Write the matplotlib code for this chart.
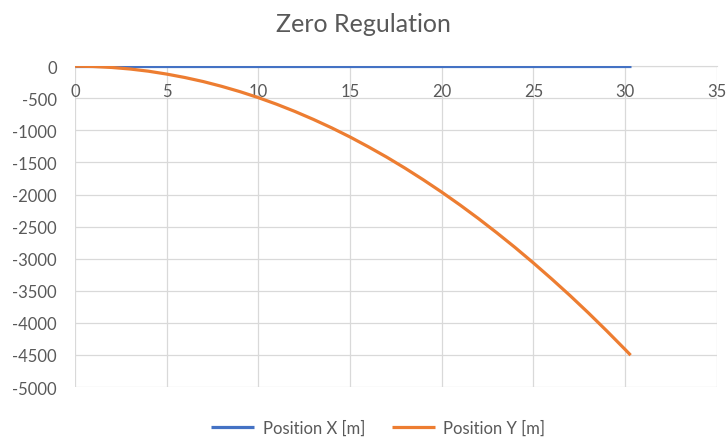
import matplotlib
matplotlib.use("Agg")
import matplotlib.pyplot as plt

# values
time_s = [0, 1, 2, 3, 4, 5, 6, 7, 8, 9, 10, 11, 12, 13, 14, 15, 16, 17, 18, 19,
          20, 21, 22, 23, 24, 25, 26, 27, 28, 29, 30, 30.3]
pos_x = [0] * len(time_s)
pos_y = [0, -5, -20, -44, -78, -123, -177, -240, -314, -397, -490, -593, -706,
         -829, -961, -1103, -1256, -1417, -1589, -1771, -1962, -2163, -2374,
         -2595, -2825, -3066, -3316, -3575, -3845, -4125, -4414, -4503]

x_ticks = [0, 5, 10, 15, 20, 25, 30, 35]
y_ticks = [0, -500, -1000, -1500, -2000, -2500, -3000, -3500, -4000, -4500, -5000]

TEXT = "#595959"
GRID = "#d9d9d9"

plt.rcParams["font.family"] = ["Lato", "DejaVu Sans"]
plt.rcParams["axes.unicode_minus"] = False  # Excel-style hyphen minus

fig = plt.figure(figsize=(7.27, 4.39), dpi=100)
ax = fig.add_axes([0.103, 0.116, 0.883, 0.731])

ax.plot(time_s, pos_x, color="#4472C4", lw=2.3, label="Position X [m]",
        solid_capstyle="butt")
ax.plot(time_s, pos_y, color="#ED7D31", lw=2.3, label="Position Y [m]",
        solid_capstyle="butt")

ax.set_xlim(0, 35)
ax.set_ylim(-5000, 0)
ax.set_xticks(x_ticks)
ax.set_yticks(y_ticks)
ax.grid(True, color=GRID, lw=0.9)
ax.set_axisbelow(True)

for name in ("top", "right", "left"):
    ax.spines[name].set_visible(False)
ax.spines["bottom"].set_position(("data", 0))
ax.spines["bottom"].set_color(GRID)
ax.spines["bottom"].set_zorder(0.5)

ax.tick_params(axis="x", length=0, pad=12, labelsize=12, labelcolor=TEXT)
ax.tick_params(axis="y", length=0, pad=13, labelsize=12, labelcolor=TEXT)

fig.text(0.5, 0.945, "Zero Regulation", ha="center", va="center",
         fontsize=18, color=TEXT)

fig.legend(loc="center", bbox_to_anchor=(0.52, 0.023), ncol=2, frameon=False,
           fontsize=12, labelcolor=TEXT, handlelength=2.6, handletextpad=0.5,
           columnspacing=1.6)

fig.savefig("out.png", dpi=100)
